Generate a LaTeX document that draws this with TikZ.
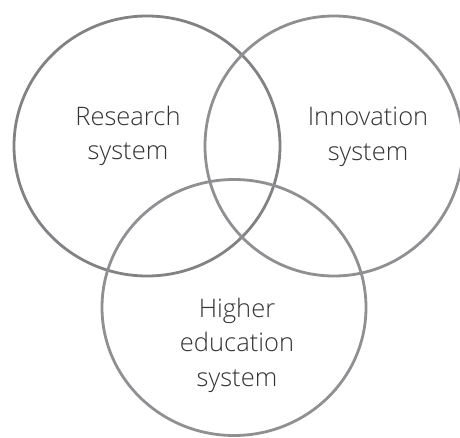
\documentclass[tikz,border=0pt]{standalone}
\usepackage{fontspec}
\setmainfont{Open Sans Light}
\definecolor{ringdark}{HTML}{828285}
\definecolor{ring}{HTML}{909093}
\definecolor{labeltext}{HTML}{333333}
\begin{document}
\begin{tikzpicture}[x=1pt,y=-1pt,
    ringline/.style={line width=2.8pt},
    label/.style={align=center,text=labeltext,inner sep=0pt,
      font=\fontsize{25.5}{34.5}\selectfont}]
  \useasboundingbox (0,0) rectangle (460,438);
  \clip (0,0) rectangle (460,438);
  % the three overlapping systems
  \draw[ringline,ringdark] (147,146) ellipse [x radius=133, y radius=130];
  \draw[ringline,ring] (334,146) ellipse [x radius=129, y radius=130];
  \draw[ringline,ring] (234,307.5) ellipse [x radius=132, y radius=128];
  % labels
  \node[label] (research) at (128,136) {Research\\system};
  \node[label] (innovation) at (368,137) {Innovation\\system};
  \node[label] (higher) at (237,345) {Higher\\education\\system};
\end{tikzpicture}
\end{document}
